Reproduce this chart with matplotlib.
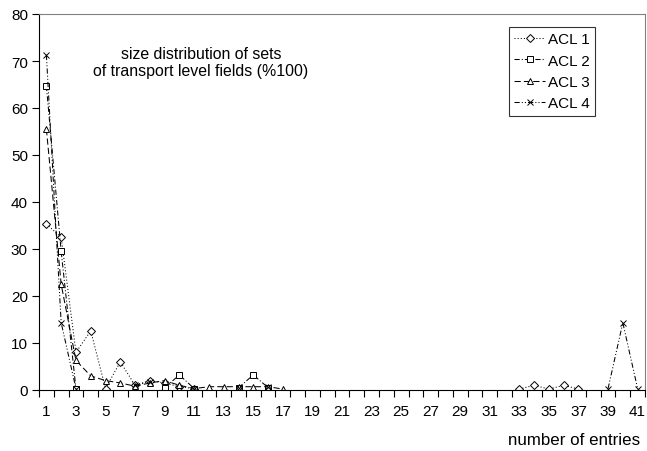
import numpy as np
import matplotlib
matplotlib.use("Agg")
import matplotlib.pyplot as plt

nan = np.nan
categories = list(range(1, 42))
tick_labels = [str(c) for c in range(1, 42, 2)]

# values per category 1..41 (nan = no data)
acl1 = [35.3, 32.5, 8.0, 12.6, 0.3, 6.0, 1.0, 2.0, 1.5, 0.7, 0.3] + [nan]*21 + \
       [0.2, 1.0, 0.2, 1.0, 0.2] + [nan]*4
acl2 = [64.7, 29.5, 0.3, nan, nan, nan, nan, nan, 0.5, 3.2, 0.3, nan, nan, 0.5, 3.2, 0.5] + [nan]*25
acl3 = [55.5, 22.5, 6.3, 3.0, 2.0, 1.5, 0.8, 1.5, 2.0, 1.0, 0.3, 0.7, 0.7, 0.7, 0.7, 0.7, 0.2] + [nan]*24
acl4 = [71.3, 14.3, 0.3, nan, nan, nan, 1.0, 1.8, nan, nan, 0.3, nan, nan, 0.5, nan, 0.7] + [nan]*22 + \
       [0.3, 14.3, 0.3]

series = [
    ("ACL 1", acl1, "D", 3.6, (0, (1, 2))),
    ("ACL 2", acl2, "s", 4.2, (0, (5, 2, 1, 2))),
    ("ACL 3", acl3, "^", 5.0, (0, (6, 3))),
    ("ACL 4", acl4, "x", 5.0, (0, (5, 2, 1, 2, 1, 2))),
]

plt.rcParams['font.family'] = ['Liberation Sans', 'DejaVu Sans']

fig = plt.figure(figsize=(6.47, 4.52), dpi=100)
ax = fig.add_axes([39/647, 1-391/452, (645-39)/647, (391-15)/452])

for name, vals, m, ms, ls in series:
    ax.plot(categories, np.array(vals, dtype=float), color="black", lw=0.75, linestyle=ls,
            marker=m, markersize=ms, markerfacecolor="white", markeredgecolor="black",
            markeredgewidth=0.7, label=name)

ax.set_xlim(0.5, 41.5)
ax.set_ylim(0, 80)
ax.set_yticks(range(0, 81, 10))
ax.set_xticks(range(1, 42, 2))
ax.set_xticklabels(tick_labels)
ax.set_xticks(np.arange(0.5, 42, 1), minor=True)
ax.tick_params(axis='x', which='major', length=0, pad=10, labelsize=11)
ax.tick_params(axis='x', which='minor', length=5, width=0.8, direction='out')
ax.tick_params(axis='y', length=5, width=0.8, direction='out', labelsize=11, pad=3)

for s in ("top", "right"):
    ax.spines[s].set_color("#808080")
    ax.spines[s].set_linewidth(0.8)
for s in ("left", "bottom"):
    ax.spines[s].set_color("black")
    ax.spines[s].set_linewidth(0.8)

ax.text(201/647, 1-63/452, "size distribution of sets\nof transport level fields (%100)",
        transform=fig.transFigure, ha="center", va="center", fontsize=11.4, linespacing=1.1)
fig.text(640/647, 1-441/452, "number of entries", ha="right", va="center", fontsize=12.2)

leg = ax.legend(loc="upper left", bbox_to_anchor=((509-39)/606, 1-(28-15)/376),
                frameon=True, fancybox=False, edgecolor="black", fontsize=11,
                handlelength=2.0, numpoints=1, borderpad=0.35, labelspacing=0.48,
                handletextpad=0.2, borderaxespad=0)
leg.get_frame().set_linewidth(0.8)

fig.savefig("out.png", dpi=100)
